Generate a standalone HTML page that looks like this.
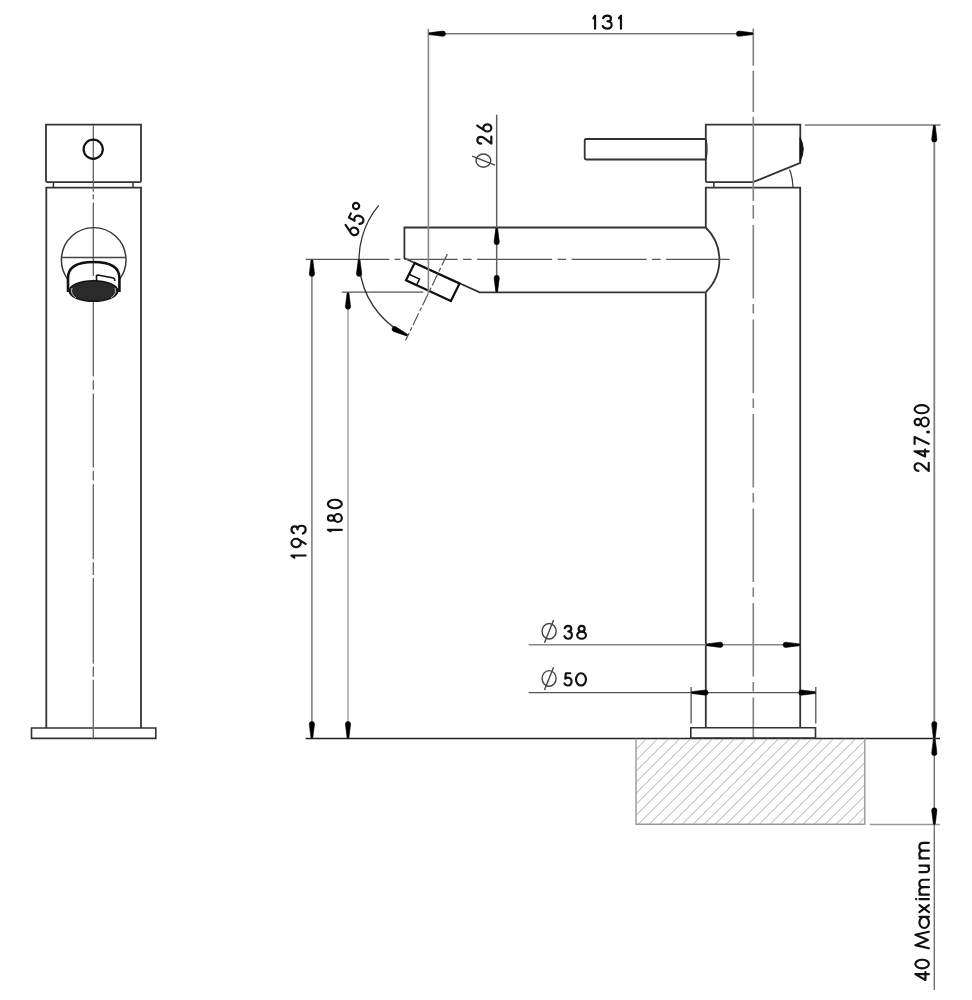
<!DOCTYPE html>
<html><head><meta charset="utf-8"><style>
html,body{margin:0;padding:0;background:#fff;}
svg{display:block;font-family:"Liberation Sans",sans-serif;}
</style></head><body>
<svg width="972" height="1000" viewBox="0 0 972 1000">
<rect width="972" height="1000" fill="#fff"/>
<path d="M46,124.7 H141 V180.7 Q141,182.2 139.5,182.2 H47.5 Q46,182.2 46,180.7 Z" stroke="#333" stroke-width="1.8" fill="none" />
<line x1="53.4" y1="182.2" x2="53.4" y2="187.6" stroke="#333" stroke-width="1.5" />
<line x1="133" y1="182.2" x2="133" y2="187.6" stroke="#333" stroke-width="1.5" />
<path d="M46.3,728 V187.6 H141 V728" stroke="#333" stroke-width="1.8" fill="none" />
<path d="M31.5,728 H155.8 V738.4 H31.5 Z" stroke="#333" stroke-width="1.62" fill="none" />
<line x1="93.3" y1="124.7" x2="93.3" y2="191.8" stroke="#606060" stroke-width="1.3" />
<line x1="93.3" y1="194.3" x2="93.3" y2="199.2" stroke="#606060" stroke-width="1.3" />
<line x1="93.3" y1="202.5" x2="93.3" y2="276" stroke="#606060" stroke-width="1.3" />
<line x1="93.3" y1="279.5" x2="93.3" y2="289.5" stroke="#606060" stroke-width="1.3" />
<line x1="93.3" y1="293.5" x2="93.3" y2="376.5" stroke="#606060" stroke-width="1.3" />
<line x1="93.3" y1="380.3" x2="93.3" y2="389.7" stroke="#606060" stroke-width="1.3" />
<line x1="93.3" y1="393.6" x2="93.3" y2="467.4" stroke="#606060" stroke-width="1.3" />
<line x1="93.3" y1="471" x2="93.3" y2="480.5" stroke="#606060" stroke-width="1.3" />
<line x1="93.3" y1="484" x2="93.3" y2="559.3" stroke="#606060" stroke-width="1.3" />
<line x1="93.3" y1="562.3" x2="93.3" y2="575" stroke="#606060" stroke-width="1.3" />
<line x1="93.3" y1="578" x2="93.3" y2="663.6" stroke="#606060" stroke-width="1.3" />
<line x1="93.3" y1="666.6" x2="93.3" y2="676.7" stroke="#606060" stroke-width="1.3" />
<line x1="93.3" y1="679.7" x2="93.3" y2="738.4" stroke="#606060" stroke-width="1.3" />
<circle cx="93.2" cy="149.2" r="9.6" stroke="#111" stroke-width="2.2" fill="none"/>
<path d="M68,279.5 A32.3,32.3 0 1 1 119.4,279.5" stroke="#333" stroke-width="1.4400000000000002" fill="none" />
<line x1="61.2" y1="257.5" x2="125.8" y2="257.5" stroke="#444" stroke-width="1.3" />
<path d="M68,292 V278 Q68,262 93.5,262 Q119.4,262 119.4,278 V292" stroke="#111" stroke-width="2.6" fill="none" />
<ellipse cx="93.5" cy="291" rx="24.3" ry="10.3" fill="#2a2a2a" stroke="#111" stroke-width="1.4"/>
<path d="M72,288 Q70,294 76,298" stroke="#bbb" stroke-width="1" fill="none"/><path d="M115,288 Q117,294 111,298" stroke="#bbb" stroke-width="1" fill="none"/>
<path d="M96.5,282 V275.5 Q97,275 99,275.2 L113.5,278 Q115,278.5 114.8,281" stroke="#111" stroke-width="1.6" fill="none" />
<path d="M706,139 H586.2 Q584.7,139 584.7,140.5 V158 Q584.7,159.5 586.2,159.5 H706" stroke="#333" stroke-width="1.8" fill="none" />
<path d="M706,139 Q708,149 706,159.5" stroke="#333" stroke-width="1.35" fill="none" />
<path d="M705.8,124.7 H800.3 V162.8 L752.9,182.2 H707.3 Q705.8,182.2 705.8,180.7 Z" stroke="#333" stroke-width="1.8" fill="none" />
<path d="M800,137.5 Q806.5,149 800,161.5 Z" fill="#111" stroke="#111" stroke-width="1"/>
<path d="M789.6,169.5 Q792.5,177 793,187.6" stroke="#333" stroke-width="1.1700000000000002" fill="none" />
<line x1="713.8" y1="182.2" x2="713.8" y2="187.7" stroke="#333" stroke-width="1.5" />
<path d="M705.8,227.5 V187.7 H800.2 V728" stroke="#333" stroke-width="1.8" fill="none" />
<path d="M705.8,292.2 V728" stroke="#333" stroke-width="1.8" fill="none" />
<path d="M705.8,227.5 H404.4 V258.2 L479.6,292.3 H705.8" stroke="#333" stroke-width="1.8" fill="none" />
<path d="M705.8,227.5 A45.3,45.3 0 0 1 705.8,292.2" stroke="#333" stroke-width="1.8" fill="none" />
<path d="M414.7,262.9 L459.5,283.6 L450.9,301 L406,280.2 Z" stroke="#111" stroke-width="2.2" fill="none" />
<path d="M409.6,274.5 L419.5,279 L416.5,285.3 L406.6,280.8" stroke="#111" stroke-width="1.5" fill="none" />
<line x1="305.7" y1="259.3" x2="389.4" y2="259.3" stroke="#555" stroke-width="1.3" />
<line x1="394.5" y1="259.3" x2="400.5" y2="259.3" stroke="#555" stroke-width="1.3" />
<line x1="404" y1="259.3" x2="729.6" y2="259.3" stroke="#555" stroke-width="1.3" stroke-dasharray="75 5.5 8.5 5.5" stroke-dashoffset="21.4"/>
<line x1="753.3" y1="28.6" x2="753.3" y2="65.8" stroke="#808080" stroke-width="1.6" />
<line x1="753.3" y1="70.6" x2="753.3" y2="112" stroke="#808080" stroke-width="1.6" />
<line x1="753.3" y1="116.8" x2="753.3" y2="200.9" stroke="#808080" stroke-width="1.6" />
<line x1="753.3" y1="205" x2="753.3" y2="218.7" stroke="#808080" stroke-width="1.6" />
<line x1="753.3" y1="225" x2="753.3" y2="738.4" stroke="#808080" stroke-width="1.6" stroke-dasharray="73.5 5.5 9.5 6"/>
<line x1="447.4" y1="253.9" x2="405.5" y2="340.6" stroke="#555" stroke-width="1.2" stroke-dasharray="13 2.5 4 2.5"/>
<line x1="428.4" y1="28.8" x2="428.4" y2="293" stroke="#888" stroke-width="1.6" />
<line x1="428.4" y1="33.7" x2="753.4" y2="33.7" stroke="#777" stroke-width="1.6" />
<path d="M429.00,32.80 L442.80,31.10 A2.6,2.6 0 0 1 442.80,36.30 L429.00,34.60 Z" fill="#000" stroke="#000" stroke-width="0.6" stroke-linejoin="round"/>
<path d="M752.80,34.60 L739.00,36.30 A2.6,2.6 0 0 1 739.00,31.10 L752.80,32.80 Z" fill="#000" stroke="#000" stroke-width="0.6" stroke-linejoin="round"/>
<line x1="496.7" y1="114.7" x2="496.7" y2="292.3" stroke="#606060" stroke-width="1.5" />
<path d="M497.60,228.30 L499.30,242.10 A2.6,2.6 0 0 1 494.10,242.10 L495.80,228.30 Z" fill="#000" stroke="#000" stroke-width="0.6" stroke-linejoin="round"/>
<path d="M495.80,291.70 L494.10,277.90 A2.6,2.6 0 0 1 499.30,277.90 L497.60,291.70 Z" fill="#000" stroke="#000" stroke-width="0.6" stroke-linejoin="round"/>
<line x1="311.9" y1="259.4" x2="311.9" y2="738.5" stroke="#777" stroke-width="1.5" />
<path d="M312.80,260.00 L314.50,273.80 A2.6,2.6 0 0 1 309.30,273.80 L311.00,260.00 Z" fill="#000" stroke="#000" stroke-width="0.6" stroke-linejoin="round"/>
<path d="M311.00,737.90 L309.30,724.10 A2.6,2.6 0 0 1 314.50,724.10 L312.80,737.90 Z" fill="#000" stroke="#000" stroke-width="0.6" stroke-linejoin="round"/>
<line x1="341.9" y1="292.2" x2="423.3" y2="292.2" stroke="#555" stroke-width="1.2" />
<line x1="348" y1="292.2" x2="348" y2="738.5" stroke="#aaa" stroke-width="1.6" />
<path d="M348.90,292.80 L350.60,306.60 A2.6,2.6 0 0 1 345.40,306.60 L347.10,292.80 Z" fill="#000" stroke="#000" stroke-width="0.6" stroke-linejoin="round"/>
<path d="M347.10,737.90 L345.40,724.10 A2.6,2.6 0 0 1 350.60,724.10 L348.90,737.90 Z" fill="#000" stroke="#000" stroke-width="0.6" stroke-linejoin="round"/>
<path d="M378.73,205.42 A83.9,83.9 0 0 0 407.54,335.39" stroke="#333" stroke-width="1.3" fill="none"/>
<path d="M360.00,259.95 L361.70,273.75 A2.6,2.6 0 0 1 356.50,273.75 L358.20,259.95 Z" fill="#000" stroke="#000" stroke-width="0.6" stroke-linejoin="round"/>
<path d="M406.61,335.94 L393.46,331.41 A2.6,2.6 0 0 1 395.74,326.74 L407.40,334.32 Z" fill="#000" stroke="#000" stroke-width="0.6" stroke-linejoin="round"/>
<line x1="305.6" y1="738.5" x2="940" y2="738.5" stroke="#222" stroke-width="1.6" />
<path d="M690.8,727.7 H815.5 V738 H690.8 Z" stroke="#333" stroke-width="1.62" fill="none" />
<line x1="528.7" y1="644.8" x2="800.2" y2="644.8" stroke="#888" stroke-width="1.5" />
<path d="M706.50,643.90 L720.30,642.20 A2.6,2.6 0 0 1 720.30,647.40 L706.50,645.70 Z" fill="#000" stroke="#000" stroke-width="0.6" stroke-linejoin="round"/>
<path d="M799.50,645.70 L785.70,647.40 A2.6,2.6 0 0 1 785.70,642.20 L799.50,643.90 Z" fill="#000" stroke="#000" stroke-width="0.6" stroke-linejoin="round"/>
<line x1="691.1" y1="687" x2="691.1" y2="723.4" stroke="#444" stroke-width="1.2" />
<line x1="815.8" y1="687" x2="815.8" y2="723.4" stroke="#444" stroke-width="1.2" />
<line x1="528.7" y1="692.6" x2="815.8" y2="692.6" stroke="#555" stroke-width="1.3" />
<path d="M691.70,691.70 L705.50,690.00 A2.6,2.6 0 0 1 705.50,695.20 L691.70,693.50 Z" fill="#000" stroke="#000" stroke-width="0.6" stroke-linejoin="round"/>
<path d="M815.20,693.50 L801.40,695.20 A2.6,2.6 0 0 1 801.40,690.00 L815.20,691.70 Z" fill="#000" stroke="#000" stroke-width="0.6" stroke-linejoin="round"/>
<clipPath id="hc"><rect x="636" y="738.4" width="228.79999999999995" height="85.89999999999998"/></clipPath>
<path d="M550.1,824.3 L636.0,738.4 M561.1,824.3 L647.0,738.4 M572.1,824.3 L658.0,738.4 M583.1,824.3 L669.0,738.4 M594.1,824.3 L680.0,738.4 M605.1,824.3 L691.0,738.4 M616.1,824.3 L702.0,738.4 M627.1,824.3 L713.0,738.4 M638.1,824.3 L724.0,738.4 M649.1,824.3 L735.0,738.4 M660.1,824.3 L746.0,738.4 M671.1,824.3 L757.0,738.4 M682.1,824.3 L768.0,738.4 M693.1,824.3 L779.0,738.4 M704.1,824.3 L790.0,738.4 M715.1,824.3 L801.0,738.4 M726.1,824.3 L812.0,738.4 M737.1,824.3 L823.0,738.4 M748.1,824.3 L834.0,738.4 M759.1,824.3 L845.0,738.4 M770.1,824.3 L856.0,738.4 M781.1,824.3 L867.0,738.4 M792.1,824.3 L878.0,738.4 M803.1,824.3 L889.0,738.4 M814.1,824.3 L900.0,738.4 M825.1,824.3 L911.0,738.4 M836.1,824.3 L922.0,738.4 M847.1,824.3 L933.0,738.4 M858.1,824.3 L944.0,738.4" stroke="#a8a8a8" stroke-width="1" clip-path="url(#hc)"/>
<path d="M636,738.4 V824.3 H864.8 V738.4" stroke="#999" stroke-width="1.4" fill="none"/>
<line x1="870" y1="824.5" x2="940" y2="824.5" stroke="#999" stroke-width="1.4" />
<line x1="805" y1="125" x2="940.6" y2="125" stroke="#777" stroke-width="1.4" />
<line x1="934.3" y1="125" x2="934.3" y2="738.5" stroke="#808080" stroke-width="1.8" />
<path d="M935.20,125.60 L936.90,139.40 A2.6,2.6 0 0 1 931.70,139.40 L933.40,125.60 Z" fill="#000" stroke="#000" stroke-width="0.6" stroke-linejoin="round"/>
<path d="M933.40,737.90 L931.70,724.10 A2.6,2.6 0 0 1 936.90,724.10 L935.20,737.90 Z" fill="#000" stroke="#000" stroke-width="0.6" stroke-linejoin="round"/>
<line x1="934.3" y1="738.5" x2="934.3" y2="990" stroke="#707070" stroke-width="1.4" />
<path d="M935.20,739.10 L936.90,752.90 A2.6,2.6 0 0 1 931.70,752.90 L933.40,739.10 Z" fill="#000" stroke="#000" stroke-width="0.6" stroke-linejoin="round"/>
<path d="M933.40,824.20 L931.70,810.40 A2.6,2.6 0 0 1 936.90,810.40 L935.20,824.20 Z" fill="#000" stroke="#000" stroke-width="0.6" stroke-linejoin="round"/>
<g transform="translate(591.9,29.7)" fill="none" stroke="#111" stroke-width="2.15" stroke-linecap="round" stroke-linejoin="round"><path d="M0,-12.2 L3,-15 V-1" transform="translate(1.525,-0.150) scale(0.5500,0.9250)" vector-effect="non-scaling-stroke"/><path d="M0.4,-12.4 C1.0,-14.1 2.6,-15 4.6,-15 C6.9,-15 8.3,-13.6 8.3,-11.8 C8.3,-10.1 6.9,-9 4.7,-9 M4.7,-9 C7.4,-9 9,-7.2 9,-5 C9,-2.6 7.2,-1 4.6,-1 C2.5,-1 0.8,-2 0,-3.8" transform="translate(10.825,-0.150) scale(0.9944,0.9250)" vector-effect="non-scaling-stroke"/><path d="M0,-12.2 L3,-15 V-1" transform="translate(27.025,-0.150) scale(0.6833,0.9250)" vector-effect="non-scaling-stroke"/></g>
<g transform="translate(306.7,559.1) rotate(-90)" fill="none" stroke="#111" stroke-width="2.15" stroke-linecap="round" stroke-linejoin="round"><path d="M0,-12.2 L3,-15 V-1" transform="translate(1.525,-0.064) scale(0.6833,1.0107)" vector-effect="non-scaling-stroke"/><path d="M9.00,-10.40 A4.4,4.6 0 1 0 0.20,-10.40 A4.4,4.6 0 1 0 9.00,-10.40 Z M8.9,-9.2 L3.6,-1" transform="translate(11.835,-0.064) scale(0.9489,1.0107)" vector-effect="non-scaling-stroke"/><path d="M0.4,-12.4 C1.0,-14.1 2.6,-15 4.6,-15 C6.9,-15 8.3,-13.6 8.3,-11.8 C8.3,-10.1 6.9,-9 4.7,-9 M4.7,-9 C7.4,-9 9,-7.2 9,-5 C9,-2.6 7.2,-1 4.6,-1 C2.5,-1 0.8,-2 0,-3.8" transform="translate(25.525,-0.064) scale(0.8722,1.0107)" vector-effect="non-scaling-stroke"/></g>
<g transform="translate(342.9,532.7) rotate(-90)" fill="none" stroke="#111" stroke-width="2.15" stroke-linecap="round" stroke-linejoin="round"><path d="M0,-12.2 L3,-15 V-1" transform="translate(1.525,-0.079) scale(0.4500,0.9964)" vector-effect="non-scaling-stroke"/><path d="M8.20,-11.90 A3.2,3.1 0 1 0 1.80,-11.90 A3.2,3.1 0 1 0 8.20,-11.90 Z M9.60,-4.90 A4.6,3.9 0 1 0 0.40,-4.90 A4.6,3.9 0 1 0 9.60,-4.90 Z " transform="translate(10.379,-0.079) scale(0.8641,0.9964)" vector-effect="non-scaling-stroke"/><path d="M9.20,-8.00 A4.6,7 0 1 0 0.00,-8.00 A4.6,7 0 1 0 9.20,-8.00 Z " transform="translate(24.425,-0.079) scale(0.9293,0.9964)" vector-effect="non-scaling-stroke"/></g>
<g transform="translate(929.8,472.5) rotate(-90)" fill="none" stroke="#111" stroke-width="2.15" stroke-linecap="round" stroke-linejoin="round"><path d="M0.3,-11.2 C0.3,-13.5 2.2,-15 4.5,-15 C7.0,-15 8.7,-13.4 8.7,-11.3 C8.7,-9.9 8.1,-8.9 6.9,-7.7 L0.2,-1 H9.2" transform="translate(1.343,-0.064) scale(0.9111,1.0107)" vector-effect="non-scaling-stroke"/><path d="M6.4,-1 V-15 L0,-4.6 H8.6" transform="translate(16.025,-0.064) scale(0.8081,1.0107)" vector-effect="non-scaling-stroke"/><path d="M0.4,-15 H8.6 L0.6,-1" transform="translate(28.186,-0.064) scale(0.8476,1.0107)" vector-effect="non-scaling-stroke"/><path d="M2.10,-1.60 A0.9,0.9 0 1 0 0.30,-1.60 A0.9,0.9 0 1 0 2.10,-1.60 Z " transform="translate(40.933,-0.064) scale(-0.3611,1.0107)" vector-effect="non-scaling-stroke"/><path d="M8.20,-11.90 A3.2,3.1 0 1 0 1.80,-11.90 A3.2,3.1 0 1 0 8.20,-11.90 Z M9.60,-4.90 A4.6,3.9 0 1 0 0.40,-4.90 A4.6,3.9 0 1 0 9.60,-4.90 Z " transform="translate(45.636,-0.064) scale(0.9728,1.0107)" vector-effect="non-scaling-stroke"/><path d="M9.20,-8.00 A4.6,7 0 1 0 0.00,-8.00 A4.6,7 0 1 0 9.20,-8.00 Z " transform="translate(59.225,-0.064) scale(0.8859,1.0107)" vector-effect="non-scaling-stroke"/></g>
<g transform="translate(930,981.5) rotate(-90)" fill="none" stroke="#111" stroke-width="2.15" stroke-linecap="round" stroke-linejoin="round"><path d="M6.4,-1 V-15 L0,-4.6 H8.6" transform="translate(1.525,-0.107) scale(0.9244,0.9679)" vector-effect="non-scaling-stroke"/><path d="M9.20,-8.00 A4.6,7 0 1 0 0.00,-8.00 A4.6,7 0 1 0 9.20,-8.00 Z " transform="translate(13.125,-0.107) scale(0.9402,0.9679)" vector-effect="non-scaling-stroke"/><path d="M0,-1 L3.2,-15 L8.75,-2 L14.3,-15 L17.5,-1" transform="translate(33.325,-0.107) scale(0.9400,0.9679)" vector-effect="non-scaling-stroke"/><path d="M10.80,-5.90 A5.4,4.9 0 1 0 0.00,-5.90 A5.4,4.9 0 1 0 10.80,-5.90 Z M10.9,-10.8 V-1" transform="translate(53.525,-0.107) scale(1.0321,0.9679)" vector-effect="non-scaling-stroke"/><path d="M0,-10.8 L7.8,-1 M7.8,-10.8 L0,-1" transform="translate(69.425,-0.107) scale(0.8782,0.9679)" vector-effect="non-scaling-stroke"/><path d="M0.2,-10.8 V-1 M0.2,-14.3 V-14.1" transform="translate(82.125,-0.107) scale(0.9679,0.9679)" vector-effect="non-scaling-stroke"/><path d="M0,-1 V-10.8 M0,-6.8 C0,-9.4 1.7,-10.9 4.0,-10.9 C6.3,-10.9 8,-9.6 8,-6.8 V-1 M8,-6.8 C8,-9.6 9.7,-10.9 12.0,-10.9 C14.3,-10.9 16,-9.4 16,-6.8 V-1" transform="translate(86.825,-0.107) scale(0.9344,0.9679)" vector-effect="non-scaling-stroke"/><path d="M0,-10.8 V-5 C0,-2.5 1.7,-0.9 3.9,-0.9 C6.1,-0.9 7.8,-2.5 7.8,-5 V-10.8 M7.8,-5 V-1" transform="translate(109.325,-0.107) scale(0.8397,0.9679)" vector-effect="non-scaling-stroke"/><path d="M0,-1 V-10.8 M0,-6.8 C0,-9.4 1.7,-10.9 4.0,-10.9 C6.3,-10.9 8,-9.6 8,-6.8 V-1 M8,-6.8 C8,-9.6 9.7,-10.9 12.0,-10.9 C14.3,-10.9 16,-9.4 16,-6.8 V-1" transform="translate(123.125,-0.107) scale(0.9719,0.9679)" vector-effect="non-scaling-stroke"/></g>
<g transform="translate(562.9,639.8)" fill="none" stroke="#111" stroke-width="2.15" stroke-linecap="round" stroke-linejoin="round"><path d="M0.4,-12.4 C1.0,-14.1 2.6,-15 4.6,-15 C6.9,-15 8.3,-13.6 8.3,-11.8 C8.3,-10.1 6.9,-9 4.7,-9 M4.7,-9 C7.4,-9 9,-7.2 9,-5 C9,-2.6 7.2,-1 4.6,-1 C2.5,-1 0.8,-2 0,-3.8" transform="translate(1.525,-0.157) scale(0.8278,0.9179)" vector-effect="non-scaling-stroke"/><path d="M8.20,-11.90 A3.2,3.1 0 1 0 1.80,-11.90 A3.2,3.1 0 1 0 8.20,-11.90 Z M9.60,-4.90 A4.6,3.9 0 1 0 0.40,-4.90 A4.6,3.9 0 1 0 9.60,-4.90 Z " transform="translate(13.945,-0.157) scale(0.9511,0.9179)" vector-effect="non-scaling-stroke"/></g>
<g transform="translate(562.9,686.6)" fill="none" stroke="#111" stroke-width="2.15" stroke-linecap="round" stroke-linejoin="round"><path d="M7.8,-15 H2.2 L1.5,-8.8 C2.5,-9.6 3.7,-10 5.0,-10 C7.6,-10 9.4,-8 9.4,-5.5 C9.4,-2.8 7.5,-1 5.0,-1 C3.1,-1 1.3,-1.9 0.4,-3.4" transform="translate(1.207,-0.200) scale(0.7944,0.8750)" vector-effect="non-scaling-stroke"/><path d="M9.20,-8.00 A4.6,7 0 1 0 0.00,-8.00 A4.6,7 0 1 0 9.20,-8.00 Z " transform="translate(13.125,-0.200) scale(1.0815,0.8750)" vector-effect="non-scaling-stroke"/></g>
<g transform="translate(492.4,145.2) rotate(-90)" fill="none" stroke="#111" stroke-width="2.15" stroke-linecap="round" stroke-linejoin="round"><path d="M0.3,-11.2 C0.3,-13.5 2.2,-15 4.5,-15 C7.0,-15 8.7,-13.4 8.7,-11.3 C8.7,-9.9 8.1,-8.9 6.9,-7.7 L0.2,-1 H9.2" transform="translate(1.366,-0.079) scale(0.7944,0.9964)" vector-effect="non-scaling-stroke"/><path d="M8.00,-5.00 A4.0,4.0 0 1 0 0.00,-5.00 A4.0,4.0 0 1 0 8.00,-5.00 Z M0.2,-6.3 L6.6,-15.2" transform="translate(13.725,-0.079) scale(0.8938,0.9964)" vector-effect="non-scaling-stroke"/></g>
<g transform="translate(357.0,238.0) rotate(-66)" fill="none" stroke="#111" stroke-width="2.15" stroke-linecap="round" stroke-linejoin="round"><path d="M8.00,-5.00 A4.0,4.0 0 1 0 0.00,-5.00 A4.0,4.0 0 1 0 8.00,-5.00 Z M0.2,-6.3 L6.6,-15.2" transform="translate(1.325,-0.036) scale(0.9187,1.0393)" vector-effect="non-scaling-stroke"/><path d="M7.8,-15 H2.2 L1.5,-8.8 C2.5,-9.6 3.7,-10 5.0,-10 C7.6,-10 9.4,-8 9.4,-5.5 C9.4,-2.8 7.5,-1 5.0,-1 C3.1,-1 1.3,-1.9 0.4,-3.4" transform="translate(13.494,-0.036) scale(0.8278,1.0393)" vector-effect="non-scaling-stroke"/><path d="M6.00,-13.30 A3.0,3.0 0 1 0 0.00,-13.30 A3.0,3.0 0 1 0 6.00,-13.30 Z " transform="translate(25.725,-0.036) scale(1.0393,1.0393)" vector-effect="non-scaling-stroke"/></g>
<g transform="rotate(0 549.1 631.2)"><ellipse cx="549.1" cy="631.2" rx="7.0" ry="7.8" stroke="#454545" stroke-width="1.45" fill="none"/><line x1="553.6" y1="620.0" x2="544.5" y2="642.8000000000001" stroke="#454545" stroke-width="1.4"/></g>
<g transform="rotate(0 549.1 678.4)"><ellipse cx="549.1" cy="678.4" rx="7.0" ry="7.8" stroke="#454545" stroke-width="1.45" fill="none"/><line x1="553.6" y1="667.1999999999999" x2="544.5" y2="690.0" stroke="#454545" stroke-width="1.4"/></g>
<g transform="rotate(-90 483.4 160.6)"><ellipse cx="483.4" cy="160.6" rx="6.6000000000000005" ry="7.4" stroke="#454545" stroke-width="1.45" fill="none"/><line x1="487.9" y1="149.4" x2="478.79999999999995" y2="172.2" stroke="#454545" stroke-width="1.4"/></g>
</svg></body></html>
